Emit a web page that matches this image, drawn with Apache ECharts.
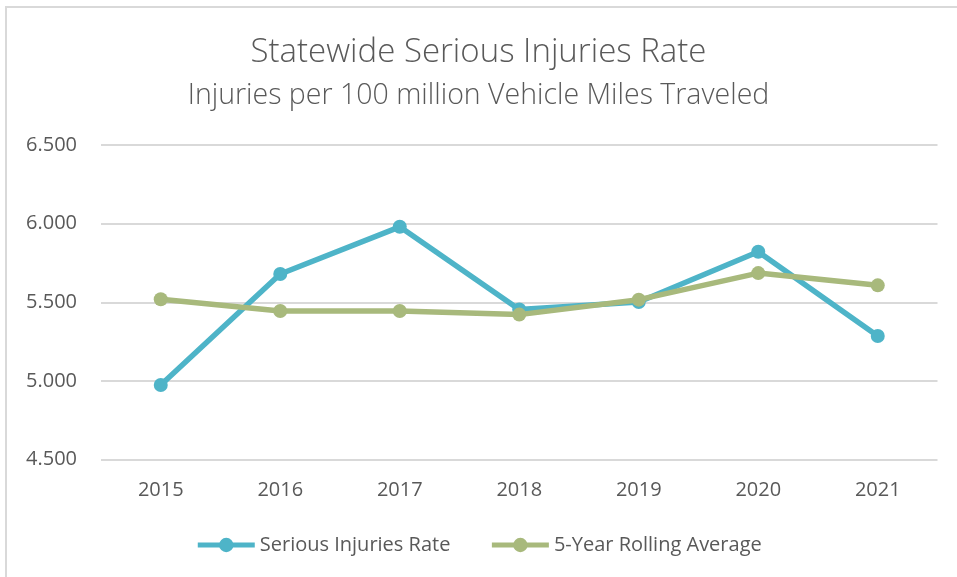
<!DOCTYPE html>
<html>
<head>
<meta charset="utf-8">
<script src="https://cdn.jsdelivr.net/npm/echarts@6/dist/echarts.min.js"></script>
<style>html,body{margin:0;padding:0;background:#fff}#c{width:957px;height:577px}</style>
</head>
<body>
<div id="c"></div>
<script>
const years = ['2015','2016','2017','2018','2019','2020','2021'];
const seriousRate = [4.975, 5.680, 5.980, 5.455, 5.502, 5.822, 5.286];
const rollingAvg = [5.520, 5.445, 5.445, 5.422, 5.517, 5.686, 5.608];
const yTicks = [4.5, 5.0, 5.5, 6.0, 6.5];

const blue = '#4EB4C8';
const green = '#A8B97C';
const txt = '#595959';
const font = 'Open Sans';

const chart = echarts.init(document.getElementById('c'));
chart.setOption({
  animation: false,
  backgroundColor: '#fff',
  graphic: [{
    type: 'rect', shape: {x: 6, y: 7, width: 1000, height: 1000},
    style: {fill: 'none', stroke: '#d9d9d9', lineWidth: 2}, silent: true, z: -1
  }],
  title: {
    text: 'Statewide Serious Injuries Rate',
    subtext: 'Injuries per 100 million Vehicle Miles Traveled',
    left: 'center', top: 31, itemGap: 12,
    textStyle: {fontFamily: font, fontSize: 33, fontWeight: 300, color: txt},
    subtextStyle: {fontFamily: font, fontSize: 28.5, fontWeight: 300, color: txt}
  },
  legend: {
    bottom: 17, left: 'center',
    itemWidth: 57, itemHeight: 18, itemGap: 39,
    lineStyle: {width: 5},
    textStyle: {fontFamily: font, fontSize: 20, color: txt, padding: [0,0,0,0]},
    data: ['Serious Injuries Rate', '5-Year Rolling Average']
  },
  grid: {left: 101, right: 19.5, top: 145, bottom: 117.3},
  xAxis: {
    type: 'category', data: years, boundaryGap: true,
    axisLine: {show: false}, axisTick: {show: false},
    axisLabel: {fontFamily: font, fontSize: 20, color: txt, margin: 21}
  },
  yAxis: {
    type: 'value', min: yTicks[0], max: yTicks[yTicks.length-1], interval: 0.5,
    axisLine: {show: false}, axisTick: {show: false},
    axisLabel: {fontFamily: font, fontSize: 20, color: txt, margin: 24,
      formatter: v => v.toFixed(3)},
    splitLine: {lineStyle: {color: '#d9d9d9', width: 2}}
  },
  series: [
    {
      name: 'Serious Injuries Rate', type: 'line', data: seriousRate,
      symbol: 'circle', symbolSize: 14,
      lineStyle: {color: blue, width: 5.5}, itemStyle: {color: blue}, z: 2
    },
    {
      name: '5-Year Rolling Average', type: 'line', data: rollingAvg,
      symbol: 'circle', symbolSize: 14,
      lineStyle: {color: green, width: 5.5}, itemStyle: {color: green}, z: 3
    }
  ]
});
</script>
</body>
</html>
